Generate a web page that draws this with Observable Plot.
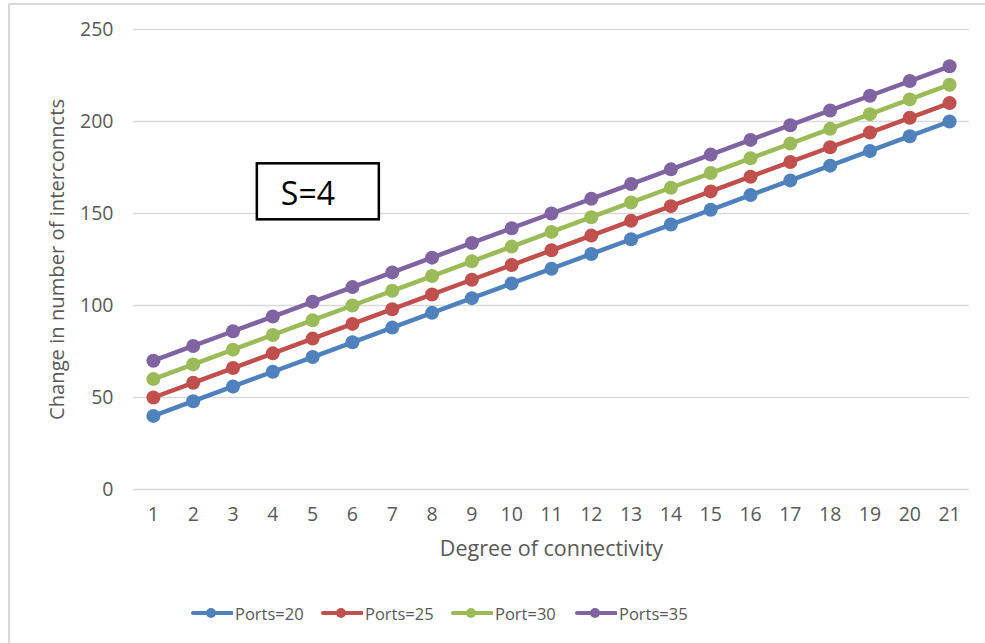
<!DOCTYPE html>
<html>
<head>
<meta charset="utf-8">
<script src="https://cdn.jsdelivr.net/npm/d3@7"></script>
<script src="https://cdn.jsdelivr.net/npm/@observablehq/plot@0.6"></script>
<style>
  html, body { margin: 0; padding: 0; background: #fff; }
  body { width: 985px; height: 643px; overflow: hidden; position: relative; font-family: "Open Sans", "Noto Sans", sans-serif; }
  #frame { position: absolute; left: 8px; top: 3px; width: 990px; height: 660px; border-left: 2px solid #d9d9d9; border-top: 2px solid #d9d9d9; }
  #chart { position: absolute; left: 0; top: 0; }
  #legend { position: absolute; left: 0; top: 601px; width: 985px; height: 24px; font-size: 16.5px; color: #595959; }
  .item { position: absolute; top: 0; display: flex; align-items: center; height: 24px; white-space: nowrap; }
  .item svg { margin-right: 2px; }
</style>
</head>
<body>
<div id="frame"></div>
<div id="chart"></div>
<div id="legend"></div>
<script>
// Degree of connectivity (x) and change in number of interconnects per port count
const degrees = d3.range(1, 22);
const ports20 = [40, 48, 56, 64, 72, 80, 88, 96, 104, 112, 120, 128, 136, 144, 152, 160, 168, 176, 184, 192, 200];
const ports25 = [50, 58, 66, 74, 82, 90, 98, 106, 114, 122, 130, 138, 146, 154, 162, 170, 178, 186, 194, 202, 210];
const port30  = [60, 68, 76, 84, 92, 100, 108, 116, 124, 132, 140, 148, 156, 164, 172, 180, 188, 196, 204, 212, 220];
const ports35 = [70, 78, 86, 94, 102, 110, 118, 126, 134, 142, 150, 158, 166, 174, 182, 190, 198, 206, 214, 222, 230];
const seriesNames = ["Ports=20", "Ports=25", "Port=30", "Ports=35"];
const seriesColors = ["#4F81BD", "#C0504D", "#9BBB59", "#8064A2"];
const yTicks = [0, 50, 100, 150, 200, 250];
const annotation = "S=4";

const seriesValues = [ports20, ports25, port30, ports35];
const rows = seriesValues.flatMap((vals, i) =>
  vals.map((v, j) => ({ series: seriesNames[i], degree: degrees[j], value: v }))
);

const font = "'Open Sans', 'Noto Sans', sans-serif";

const chart = Plot.plot({
  width: 985,
  height: 580,
  marginTop: 29,
  marginBottom: 91,
  marginLeft: 133,
  marginRight: 16,
  style: { fontFamily: font, background: "transparent" },
  x: { type: "point", domain: degrees, padding: 0.5, round: false, label: null },
  y: { domain: [0, 250], ticks: yTicks, label: null },
  color: { domain: seriesNames, range: seriesColors },
  marks: [
    Plot.gridY(yTicks, { stroke: "#d9d9d9", strokeOpacity: 1, strokeWidth: 1.3 }),
    Plot.axisY(yTicks, { tickSize: 0, tickPadding: 20, fontSize: 19.5, fill: "#595959", label: null }),
    Plot.axisX(degrees, { tickSize: 0, tickPadding: 18, fontSize: 19.5, fill: "#595959", label: null }),
    Plot.text(["Degree of connectivity"], { frameAnchor: "bottom", lineAnchor: "middle", dy: 60, fontSize: 21.5, fill: "#595959" }),
    Plot.text(["Change in number of interconncts"], { frameAnchor: "left", textAnchor: "middle", lineAnchor: "middle", dx: -76, rotate: -90, fontSize: 20.2, fill: "#595959" }),
    Plot.line(rows, { x: "degree", y: "value", z: "series", stroke: "series", strokeWidth: 4.5 }),
    Plot.dot(rows, { x: "degree", y: "value", fill: "series", r: 7 })
  ]
});
document.getElementById("chart").appendChild(chart);

// Annotation box anchored to the data scales
const svg = d3.select(chart);
const xs = chart.scale("x"), ys = chart.scale("y");
const bx = xs.apply(4) - 15.5, by = ys.apply(177);
const g = svg.append("g");
g.append("rect").attr("x", bx).attr("y", by).attr("width", 122).attr("height", 56)
  .attr("fill", "#fff").attr("stroke", "#000").attr("stroke-width", 2.5);
g.append("text").attr("x", bx + 24).attr("y", by + 42).attr("font-size", 32)
  .attr("text-anchor", "start")
  .attr("font-family", font).attr("fill", "#000").text(annotation);

// Legend below the chart
const legend = document.getElementById("legend");
const legendLeft = [191, 321, 451, 575];
seriesNames.forEach((name, i) => {
  const item = document.createElement("div");
  item.className = "item";
  item.style.left = legendLeft[i] + "px";
  item.innerHTML = `<svg width="42" height="16"><line x1="2" y1="8" x2="41" y2="8" stroke="${seriesColors[i]}" stroke-width="4" stroke-linecap="round"/><circle cx="20" cy="8" r="5" fill="${seriesColors[i]}"/></svg><span>${name}</span>`;
  legend.appendChild(item);
});
</script>
</body>
</html>
